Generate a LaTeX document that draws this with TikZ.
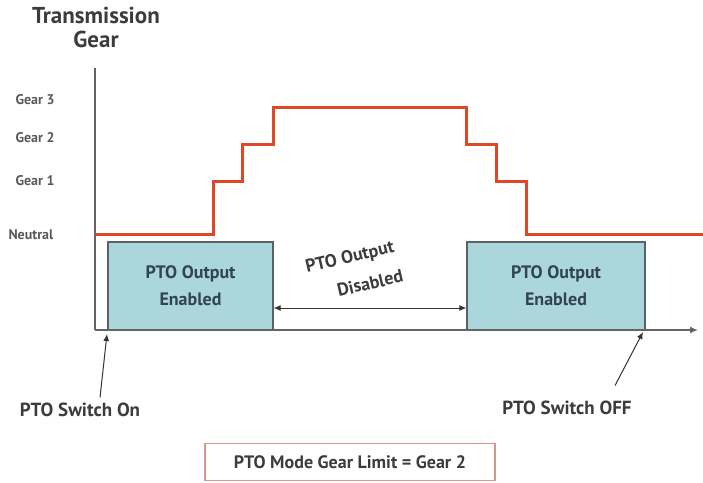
\documentclass[tikz,border=0pt]{standalone}
\usepackage{fontspec}
\setmainfont{PT Sans}
\usepackage{tikz}
\usetikzlibrary{
arrows.meta,
positioning,
calc
}

\definecolor{gearred}{RGB}{222,72,40}
\definecolor{ptofill}{RGB}{170,214,220}
\definecolor{ptoedge}{RGB}{88,98,104}
\definecolor{ptotext}{RGB}{50,68,78}
\definecolor{axisgray}{RGB}{100,100,100}
\definecolor{labelgray}{RGB}{60,60,60}
\definecolor{limitedge}{RGB}{214,150,138}

\begin{document}
\begin{tikzpicture}[
x=1pt,y=-1pt,
text=labelgray,
ptobox/.style={
draw=ptoedge,
line width=1.2pt,
fill=ptofill,
minimum height=88pt,
align=center,
text=ptotext,
font=\bfseries\fontsize{18}{27}\selectfont
},
gearlabel/.style={anchor=west,font=\bfseries\fontsize{14}{18}\selectfont,text=black!65},
note/.style={font=\bfseries\fontsize{19}{24}\selectfont},
tilted/.style={rotate=13,inner sep=1pt,font=\bfseries\fontsize{18}{22}\selectfont},
axis/.style={draw=axisgray,line width=1.5pt},
gearline/.style={draw=gearred,line width=3pt},
arrow/.style={-{Latex[length=7pt,width=6pt]},line width=1pt,draw=black!80}
]
\useasboundingbox (0,0) rectangle (703,482);

% title and gear levels
\node[align=center,font=\bfseries\fontsize{23}{24}\selectfont] (title) at (96,27) {Transmission\\Gear};
\node[gearlabel] (gear3) at (12,100) {Gear 3};
\node[gearlabel] (gear2) at (12,138) {Gear 2};
\node[gearlabel] (gear1) at (12,181) {Gear 1};
\node[gearlabel] (neutral) at (5,235) {Neutral};

% PTO boxes
\node[ptobox,minimum width=165pt] (enabledA) at (190.5,286) {PTO Output\\Enabled};
\node[ptobox,minimum width=178pt] (enabledB) at (556,286) {PTO Output\\Enabled};

% axes
\coordinate (origin) at (95,330);
\coordinate (ytop) at (95,68);
\coordinate (xend) at (698,330);
\draw[axis] (ytop) -- (origin);
\draw[axis,-{Latex[length=8pt,width=7pt]}] (origin) -- (xend);

% gear trace
\draw[gearline] (95,234) -- (213,234) -- (213,181) -- (242,181) -- (242,144)
  -- (273,144) -- (273,107) -- (466,107) -- (466,144) -- (496,144)
  -- (496,181) -- (526,181) -- (526,234) -- (703,234);

% disabled span
\draw[arrow,{Latex[length=7pt,width=6pt]}-{Latex[length=7pt,width=6pt]}]
  ([yshift=-22pt]enabledA.east) -- ([yshift=-22pt]enabledB.west);
\node[tilted] (disabledA) at (350,258) {PTO Output};
\node[tilted] (disabledB) at (370,283) {Disabled};

% switch notes
\node[note] (switchon) at (80,410) {PTO Switch On};
\node[note] (switchoff) at (567,408) {PTO Switch OFF};
\coordinate (onpt) at (107,334);
\coordinate (offpt) at (643,332);
\draw[arrow] ([xshift=20pt,yshift=2pt]switchon.north) -- (onpt);
\draw[arrow] ([xshift=48pt,yshift=12pt]switchoff.north) -- (offpt);

% limit
\node[draw=limitedge,line width=1.2pt,minimum width=290pt,minimum height=37pt,
  font=\bfseries\fontsize{18}{24}\selectfont] (limit) at (350,462) {PTO Mode Gear Limit = Gear 2};

\end{tikzpicture}
\end{document}
